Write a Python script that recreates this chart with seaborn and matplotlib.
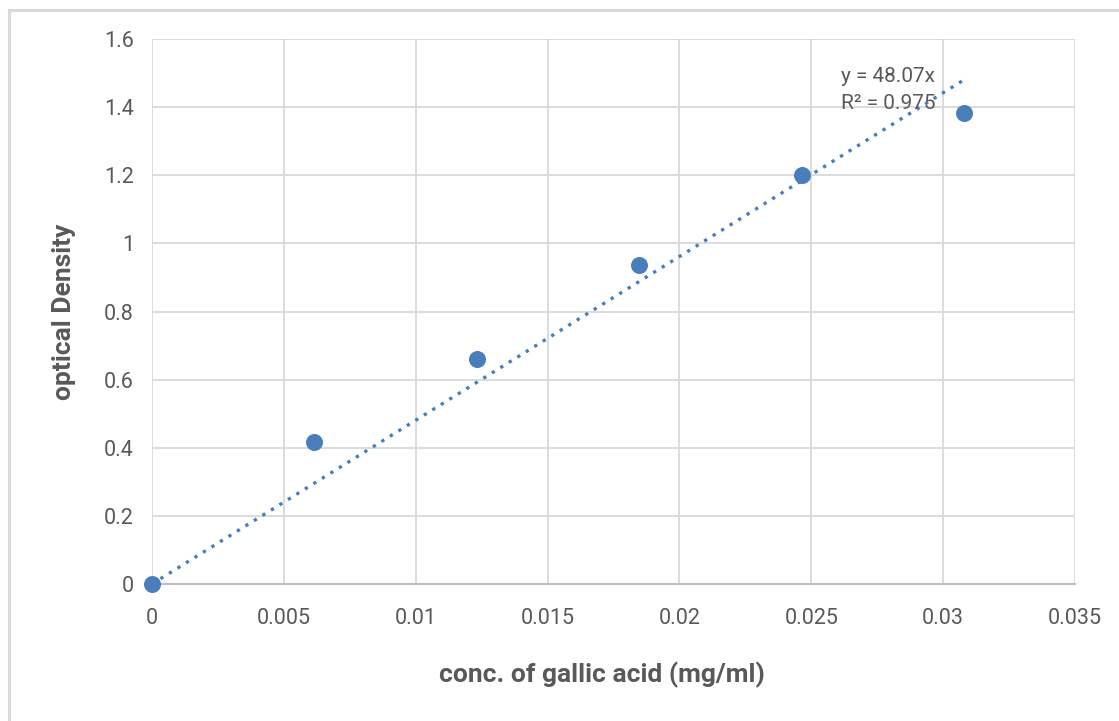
import numpy as np
import pandas as pd
import seaborn as sns
import matplotlib.pyplot as plt
from matplotlib.patches import Rectangle

# gallic acid standard curve
conc = [0.0, 0.00616, 0.01232, 0.01848, 0.02464, 0.0308]
od = [0.0, 0.417, 0.661, 0.937, 1.201, 1.383]
x_ticks = [0, 0.005, 0.01, 0.015, 0.02, 0.025, 0.03, 0.035]
x_tick_labels = ["0", "0.005", "0.01", "0.015", "0.02", "0.025", "0.03", "0.035"]
y_ticks = [0, 0.2, 0.4, 0.6, 0.8, 1, 1.2, 1.4, 1.6]
y_tick_labels = ["0", "0.2", "0.4", "0.6", "0.8", "1", "1.2", "1.4", "1.6"]
slope_label = 48.07
r2_label = 0.975

sns.set_style("white")
plt.rcParams['font.family'] = ['Roboto', 'DejaVu Sans']

df = pd.DataFrame({"conc": conc, "od": od})
blue = "#4a7ebb"
grey = "#595959"

fig = plt.figure(figsize=(11.19, 7.21), dpi=100)
ax = fig.add_axes([152/1119, 1 - 584/721, (1075-152)/1119, (584-39)/721])

# trendline through origin
xs = np.array([0, conc[-1]])
ax.plot(xs, slope_label * xs, linestyle=(0, (1, 2.0)), color=blue, lw=2.4, zorder=2)

sns.scatterplot(data=df, x="conc", y="od", ax=ax, color=blue, s=150,
                edgecolor=blue, linewidth=0, zorder=3, clip_on=False)

ax.set_xlim(0, 0.035)
ax.set_ylim(0, 1.6)
ax.set_xticks(x_ticks)
ax.set_xticklabels(x_tick_labels)
ax.set_yticks(y_ticks)
ax.set_yticklabels(y_tick_labels)
ax.grid(True, color="#d9d9d9", lw=1.3)
ax.set_axisbelow(True)
for s in ["top", "right", "left"]:
    ax.spines[s].set_visible(False)
ax.spines["bottom"].set_color("#bfbfbf")
ax.spines["bottom"].set_linewidth(1.5)
ax.tick_params(axis="both", length=0, labelsize=15.5, labelcolor=grey)
ax.tick_params(axis="x", pad=17)
ax.tick_params(axis="y", pad=13)

lab_font = dict(family=['Roboto', 'DejaVu Sans'], fontsize=19,
                fontweight="bold", color=grey)
ax.set_xlabel("conc. of gallic acid (mg/ml)", labelpad=24, **lab_font)
ax.set_ylabel("optical Density", labelpad=20, **lab_font)
ax.xaxis.label.set_x(0.4875)

ax.text(0.02612, 1.49, f"y = {slope_label}x", fontsize=15, color=grey, va="center")
ax.text(0.02612, 1.41, f"R² = {r2_label}", fontsize=15, color=grey, va="center")

# outer chart border
fig.patches.append(Rectangle((9/1119, -0.1), 1.2, 1 - 10/721 + 0.1,
                             transform=fig.transFigure, fill=False,
                             edgecolor="#d9d9d9", lw=2.2))

fig.savefig("out.png", dpi=100)
